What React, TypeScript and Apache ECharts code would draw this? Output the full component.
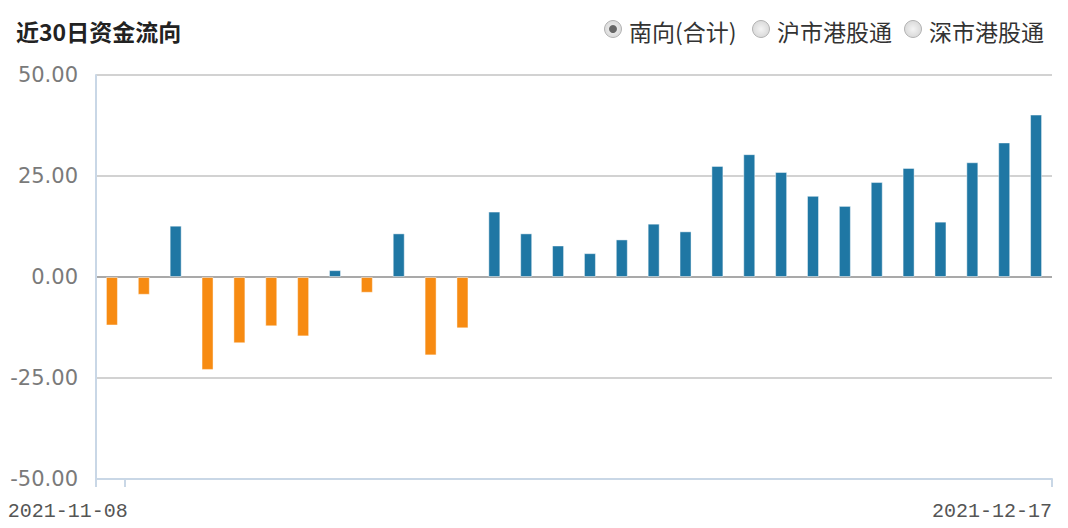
import { useEffect, useRef } from "react";
import * as echarts from "echarts";

const BLUE = "#1f77a4";
const ORANGE = "#f78b12";

// 2021-11-08 ~ 2021-12-17 的交易日
const dates = [
    "2021-11-08", "2021-11-09", "2021-11-10", "2021-11-11", "2021-11-12",
    "2021-11-15", "2021-11-16", "2021-11-17", "2021-11-18", "2021-11-19",
    "2021-11-22", "2021-11-23", "2021-11-24", "2021-11-25", "2021-11-26",
    "2021-11-29", "2021-11-30", "2021-12-01", "2021-12-02", "2021-12-03",
    "2021-12-06", "2021-12-07", "2021-12-08", "2021-12-09", "2021-12-10",
    "2021-12-13", "2021-12-14", "2021-12-15", "2021-12-16", "2021-12-17",
];

// 南向(合计) 净流入，亿元
const southbound = [
    -12.0, -4.4, 12.7, -23.0, -16.4, -12.2, -14.7, 1.7, -3.9, 10.8,
    -19.4, -12.7, 16.2, 10.8, 7.8, 5.9, 9.3, 13.2, 11.3, 27.5,
    30.4, 26.0, 20.1, 17.6, 23.5, 27.0, 13.7, 28.4, 33.3, 40.2,
];

const yTicks = [-50, -25, 0, 25, 50];
const radios = ["南向(合计)", "沪市港股通", "深市港股通"];
const radioX = [613, 761, 913];

const FONT = '"Noto Sans CJK SC", "Noto Sans", sans-serif';

export default function App() {
    const ref = useRef<HTMLDivElement>(null);

    useEffect(() => {
        document.body.style.margin = "0";
        if (!ref.current) return;
        const chart = echarts.init(ref.current, undefined, { renderer: "svg" });

        const radioGraphics = radios.flatMap((label, i) => {
            const cx = radioX[i];
            const items: any[] = [
                {
                    type: "circle",
                    shape: { cx, cy: 29, r: 8.5 },
                    style: {
                        fill: new echarts.graphic.RadialGradient(0.5, 0.5, 0.6, [
                            { offset: 0, color: "#f4f4f4" },
                            { offset: 1, color: "#d4d4d4" },
                        ]),
                        stroke: "#b4b4b4",
                        lineWidth: 1,
                    },
                },
                {
                    type: "text",
                    x: cx + 16,
                    y: 31,
                    style: {
                        text: label,
                        fill: "#333",
                        font: `23px ${FONT}`,
                        verticalAlign: "middle",
                    },
                },
            ];
            if (i === 0) {
                items.push({
                    type: "circle",
                    shape: { cx, cy: 29, r: 4 },
                    style: { fill: "#666" },
                });
            }
            return items;
        });

        chart.setOption({
            animation: false,
            backgroundColor: "#fff",
            title: {
                text: "近30日资金流向",
                left: 11,
                top: 14,
                textStyle: {
                    fontFamily: FONT,
                    fontSize: 23,
                    fontWeight: "bold",
                    color: "#222",
                },
            },
            graphic: radioGraphics,
            grid: { left: 96, right: 16, top: 75, bottom: 49 },
            xAxis: [
                {
                    type: "category",
                    data: dates,
                    show: false,
                },
                {
                    type: "value",
                    min: 0,
                    max: dates.length,
                    position: "bottom",
                    axisLine: { show: true, lineStyle: { color: "#c9d7e6", width: 2 } },
                    axisTick: {
                        show: true,
                        length: 8,
                        customValues: [0, 0.9, dates.length],
                        lineStyle: { color: "#c9d7e6", width: 2 },
                    },
                    axisLabel: {
                        customValues: [1, dates.length],
                        formatter: (v: number) => (v === 1 ? dates[0] : dates[dates.length - 1]),
                        align: "right",
                        margin: 22,
                        color: "#555",
                        fontFamily: '"Liberation Mono", "DejaVu Sans Mono", monospace',
                        fontSize: 20,
                    },
                    splitLine: { show: false },
                },
            ],
            yAxis: {
                type: "value",
                min: yTicks[0],
                max: yTicks[yTicks.length - 1],
                interval: 25,
                axisLine: { show: true, lineStyle: { color: "#c9d7e6", width: 2 } },
                axisTick: { show: false },
                axisLabel: {
                    formatter: (v: number) => v.toFixed(2),
                    color: "#7a7a7a",
                    fontFamily: '"DejaVu Sans", sans-serif',
                    fontSize: 21,
                    margin: 18,
                },
                splitLine: {
                    lineStyle: {
                        color: yTicks.map((t) => (t === 0 ? "#a9a9a9" : "#d2d2d2")),
                        width: 2,
                    },
                },
            },
            series: [
                {
                    type: "bar",
                    xAxisIndex: 0,
                    barWidth: 12,
                    data: southbound.map((v) => ({
                        value: v,
                        itemStyle: {
                            color: v >= 0 ? BLUE : ORANGE,
                            borderColor: "rgba(255,255,255,0.45)",
                            borderWidth: 1,
                        },
                    })),
                },
            ],
        });

        return () => chart.dispose();
    }, []);

    return <div ref={ref} style={{ width: 1068, height: 528 }} />;
}
